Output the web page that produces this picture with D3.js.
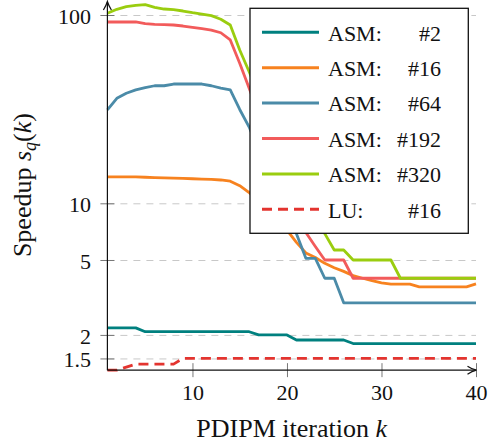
<!DOCTYPE html>
<html>
<head>
<meta charset="utf-8">
<script src="https://cdn.jsdelivr.net/npm/d3@7"></script>
<style>
  html, body { margin: 0; padding: 0; background: #fff; }
</style>
</head>
<body>
<div id="chart"></div>
<script>
// ---------- data ----------
const iterations = d3.range(1, 41);
const seriesNames = ["ASM2", "ASM16", "ASM64", "ASM192", "ASM320", "LU16"];
const legendLeft = ["ASM:", "ASM:", "ASM:", "ASM:", "ASM:", "LU:"];
const legendRight = ["#2", "#16", "#64", "#192", "#320", "#16"];
const seriesColors = ["#00807f", "#f7821f", "#4b8ba8", "#f25b5b", "#9acd0f", "#e3342f"];
const seriesDashed = [false, false, false, false, false, true];

const asm2 = [2.18, 2.18, 2.18, 2.18, 2.08, 2.08, 2.08, 2.08, 2.08, 2.08,
              2.08, 2.08, 2.08, 2.08, 2.08, 2.08, 2.0, 2.0, 2.0, 2.0,
              1.88, 1.88, 1.88, 1.88, 1.88, 1.88, 1.8, 1.8, 1.8, 1.8,
              1.8, 1.8, 1.8, 1.8, 1.8, 1.8, 1.8, 1.8, 1.8, 1.8];
const asm16 = [13.8, 13.8, 13.8, 13.8, 13.75, 13.7, 13.65, 13.6, 13.55, 13.5,
               13.45, 13.4, 13.3, 13.1, 12.4, 11.4, 10.2, 9.0, 8.0, 7.2,
               6.2, 5.45, 5.15, 4.8, 4.55, 4.35, 4.13, 4.0, 3.88, 3.78,
               3.72, 3.72, 3.72, 3.6, 3.6, 3.6, 3.6, 3.6, 3.6, 3.73];
const asm64 = [31.3, 36.1, 38.4, 40.0, 41.1, 42.1, 42.1, 43, 43, 43,
               43, 42.1, 40.9, 40.0, 31.5, 25.4, 19, 14.5, 11, 8.5,
               6.9, 5.1, 5.1, 4.0, 4.0, 2.96, 2.96, 2.96, 2.96, 2.96,
               2.96, 2.96, 2.96, 2.96, 2.96, 2.96, 2.96, 2.96, 2.96, 2.96];
const asm192 = [91.8, 91.8, 91.8, 91.8, 89.9, 89.2, 88.8, 88.5, 87.4, 86.0,
                84.6, 83.2, 80.5, 73.7, 55.4, 40.8, 30, 22, 16, 12,
                9, 7.0, 5.9, 5.0, 5.0, 5.0, 4.0, 4.0, 4.0, 4.0,
                4.0, 4.0, 4.0, 4.0, 4.0, 4.0, 4.0, 4.0, 4.0, 4.0];
const asm320 = [102.1, 107.2, 110.7, 112.6, 113.4, 109.9, 107.6, 106.7, 105.0, 102.9,
                101.2, 99.2, 94.9, 88.5, 65.2, 50, 38, 29, 22, 16.5,
                12.5, 10, 8.2, 6.9, 5.65, 5.65, 5.0, 5.0, 5.0, 5.0,
                5.0, 4.0, 4.0, 4.0, 4.0, 4.0, 4.0, 4.0, 4.0, 4.0];
const lu16 = [1.3, 1.3, 1.35, 1.4, 1.4, 1.4, 1.4, 1.4, 1.5, 1.5,
              1.5, 1.5, 1.5, 1.5, 1.5, 1.5, 1.5, 1.5, 1.5, 1.5,
              1.5, 1.5, 1.5, 1.5, 1.5, 1.5, 1.5, 1.5, 1.5, 1.5,
              1.5, 1.5, 1.5, 1.5, 1.5, 1.5, 1.5, 1.5, 1.5, 1.5];
const seriesValues = [asm2, asm16, asm64, asm192, asm320, lu16];

const xTicks = [10, 20, 30, 40];
const yTicks = [1.5, 2, 5, 10, 100];
const yTickLabels = ["1.5", "2", "5", "10", "100"];
const xDomain = [1, 40];
const yDomain = [1.3, 120];

// ---------- layout ----------
const W = 494, H = 445;
const pLeft = 107.4, pRight = 476, pBottom = 370.15, pTop = 0.09;
const FONT = '"Liberation Serif", Tinos, "Times New Roman", Times, "DejaVu Serif", serif';

const svg = d3.select("#chart").append("svg").attr("width", W).attr("height", H)
  .attr("font-family", FONT);

const x = d3.scaleLinear().domain(xDomain).range([pLeft, pRight]);
const y = d3.scaleLog().domain(yDomain).range([pBottom, pTop]);

// grid
const grid = svg.append("g").attr("transform", `translate(${pLeft},0)`)
  .call(d3.axisLeft(y).tickValues(yTicks).tickSize(-(pRight - pLeft)).tickFormat(""));
grid.select(".domain").remove();
grid.selectAll(".tick line").attr("stroke", "#c8c8c8").attr("stroke-width", 1).attr("stroke-dasharray", "7,6");

// y axis ticks and labels
const yAxis = svg.append("g").attr("transform", `translate(${pLeft},0)`)
  .call(d3.axisLeft(y).tickValues(yTicks).tickSize(7).tickFormat((d, i) => yTickLabels[i]));
yAxis.attr("font-family", FONT).attr("font-size", 22);
yAxis.select(".domain").remove();
yAxis.selectAll(".tick line").attr("x1", -7).attr("x2", 7).attr("stroke", "#777").attr("stroke-width", 1);
yAxis.selectAll(".tick text").attr("x", -16.4).attr("dy", null).attr("y", 8.5)
  .attr("fill", "#111");

// x axis ticks and labels
const xAxis = svg.append("g").attr("transform", `translate(0,${pBottom})`)
  .call(d3.axisBottom(x).tickValues(xTicks).tickSize(7).tickFormat(d3.format("d")));
xAxis.attr("font-family", FONT).attr("font-size", 22);
xAxis.select(".domain").remove();
xAxis.selectAll(".tick line").attr("y1", -7).attr("y2", 7).attr("stroke", "#777").attr("stroke-width", 1);
xAxis.selectAll(".tick text").attr("y", 30).attr("dy", null).attr("fill", "#111");

// series
const line = d3.line().x((d, i) => x(iterations[i])).y(d => y(d));
const plot = svg.append("g");
seriesValues.forEach((vals, s) => {
  plot.append("path")
    .datum(vals)
    .attr("d", line)
    .attr("fill", "none")
    .attr("stroke", seriesColors[s])
    .attr("stroke-width", 2.8)
    .attr("stroke-linejoin", "round")
    .attr("stroke-dasharray", seriesDashed[s] ? "10,6" : null);
});

// axis lines with arrows
const ax = svg.append("g").attr("stroke", "#111").attr("stroke-width", 1.2).attr("fill", "none");
ax.append("line").attr("x1", pLeft).attr("x2", pLeft).attr("y1", pBottom).attr("y2", 2);
ax.append("path").attr("d", `M${pLeft - 4},${10} Q${pLeft - 1},${5} ${pLeft},${1.5} Q${pLeft + 1},${5} ${pLeft + 4},${10}`);
ax.append("line").attr("x1", pLeft).attr("x2", pRight).attr("y1", pBottom).attr("y2", pBottom);
ax.append("path").attr("d", `M${pRight - 8.5},${pBottom - 4} Q${pRight - 4},${pBottom - 1} ${pRight + 0.5},${pBottom} Q${pRight - 4},${pBottom + 1} ${pRight - 8.5},${pBottom + 4}`);

// axis labels
svg.append("text")
  .attr("x", (pLeft + pRight) / 2).attr("y", 437)
  .attr("text-anchor", "middle").attr("fill", "#111")
  .attr("font-size", 26)
  .html('PDIPM iteration <tspan font-style="italic">k</tspan>');

svg.append("text")
  .attr("transform", `translate(31,${pBottom / 2}) rotate(-90)`)
  .attr("text-anchor", "middle").attr("fill", "#111")
  .attr("font-size", 26)
  .html('Speedup <tspan font-style="italic">s</tspan><tspan font-style="italic" font-size="18" dy="5">q</tspan><tspan dy="-5">(</tspan><tspan font-style="italic">k</tspan>)');

// legend
const lg = svg.append("g");
lg.append("rect").attr("x", 250).attr("y", 8.3).attr("width", 218.3).attr("height", 225)
  .attr("fill", "#fff").attr("stroke", "#111").attr("stroke-width", 1.3);
seriesNames.forEach((n, i) => {
  const cy = 32.3 + i * 35.4;
  lg.append("line").attr("x1", 262).attr("x2", 319).attr("y1", cy).attr("y2", cy)
    .attr("stroke", seriesColors[i]).attr("stroke-width", 3)
    .attr("stroke-dasharray", seriesDashed[i] ? "10,6" : null);
  lg.append("text").attr("x", 328).attr("y", cy + 8.2).attr("fill", "#111")
    .attr("font-size", 22).text(legendLeft[i]);
  lg.append("text").attr("x", 441).attr("y", cy + 8.2).attr("fill", "#111")
    .attr("text-anchor", "end").attr("font-size", 22).text(legendRight[i]);
});
</script>
</body>
</html>
